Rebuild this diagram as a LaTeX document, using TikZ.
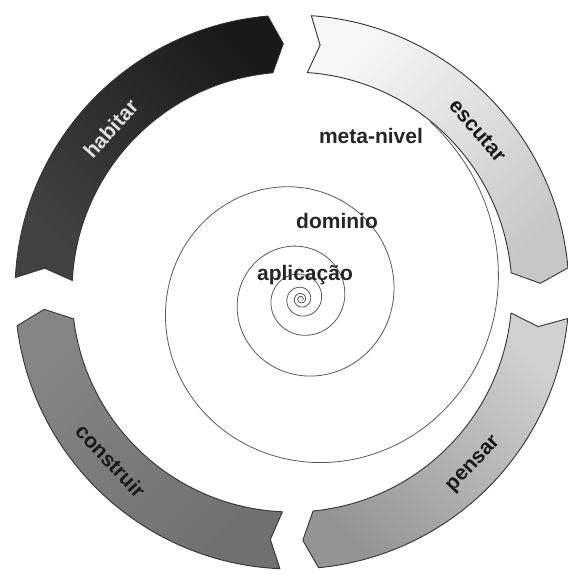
\documentclass[tikz,border=0pt]{standalone}
\usepackage{fontspec}
\setmainfont{Liberation Sans}
\usepackage{tikz}

\begin{document}
\begin{tikzpicture}[x=1pt,y=1pt,
    ringlabel/.style={font=\fontsize{21}{25}\selectfont\bfseries,inner sep=0pt},
    levellabel/.style={font=\fontsize{21}{25}\selectfont\bfseries,inner sep=0pt,anchor=base,text=black!85}]
  \colorlet{edge}{black!80}
  \colorlet{spiralc}{black!65}
  \def\router{277}
  \def\rinner{220}
  \def\rmid{248.5}
  \def\tip{3}
  \def\notch{2.5}
  \newcommand{\ringarrow}[5]{% tail, head, top color, bottom color, shading angle
    \shadedraw[top color=#3,bottom color=#4,shading angle=#5,draw=edge,line width=0.9pt,line join=round]
      (#1:\router) arc[start angle=#1,end angle=#2,radius=\router]
      -- ({#2-\tip}:\rmid) -- (#2:\rinner)
      arc[start angle=#2,end angle=#1,radius=\rinner]
      -- ({#1-\notch}:\rmid) -- cycle;}

  \useasboundingbox (-292,-282) rectangle (276,292);

  % the spiral
  \draw[spiralc,line width=0.8pt,shift={(9,-7)}]
    plot[domain=-2200:54,samples=600,smooth,variable=\t] (\t:{196*exp(0.0020944*\t)});

  % the four segments of the ring
  \ringarrow{177}{95}{black!90}{black!74}{-45}
  \ringarrow{86}{5}{black!3}{black!22}{45}
  \ringarrow{-5.5}{-84.5}{black!18}{black!42}{-45}
  \ringarrow{-92.5}{-173}{black!48}{black!56}{45}

  \node[ringlabel,text=black!12,rotate=48] (habitar) at (138:244) {habitar};
  \node[ringlabel,text=black!90,rotate=-49] (escutar) at (41:246) {escutar};
  \node[ringlabel,text=black!90,rotate=46.5] (pensar) at (-43.5:251) {pensar};
  \node[ringlabel,text=black!90,rotate=-47] (construir) at (-137:248) {construir};

  % levels
  \node[levellabel] (meta) at (79,149) {meta-nivel};
  \node[levellabel] (dominio) at (45,64) {dominio};
  \node[levellabel] (aplicacao) at (13,12) {aplicação};
\end{tikzpicture}
\end{document}
